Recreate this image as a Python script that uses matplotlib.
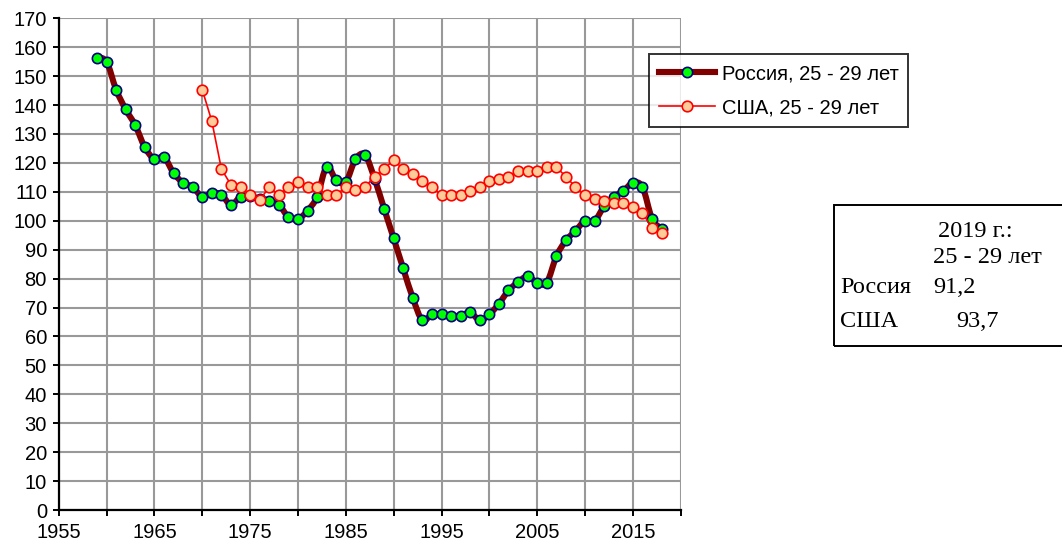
import matplotlib
matplotlib.use("Agg")
import matplotlib.pyplot as plt
from matplotlib.path import Path
from matplotlib.patches import PathPatch, Rectangle
from matplotlib.lines import Line2D
import numpy as np

# Россия, 25 - 29 лет
ru_years = list(range(1959, 2019))
ru_values = [156.4, 155.0, 145.3, 138.5, 133.0, 125.4, 121.3, 122.0, 116.5, 113.1,
             111.7, 108.3, 109.7, 109.0, 105.5, 108.3, 108.6, 107.5, 107.0, 105.6,
             101.3, 100.6, 103.5, 108.3, 118.7, 114.0, 113.4, 121.2, 122.8, 114.6,
             104.2, 93.9, 83.5, 73.3, 65.6, 67.6, 67.6, 67.1, 67.1, 68.3,
             65.6, 67.6, 71.3, 75.9, 78.8, 80.8, 78.6, 78.6, 87.7, 93.2,
             96.5, 100.0, 100.0, 105.0, 108.3, 110.3, 113.1, 111.7, 100.7, 97.2]

# США, 25 - 29 лет
us_years = list(range(1970, 2019))
us_values = [145.3, 134.4, 117.9, 112.4, 111.7, 109.0, 107.1, 111.7, 108.9, 111.7,
             113.4, 111.7, 111.7, 108.9, 108.9, 111.7, 110.6, 111.7, 115.2, 118.0,
             120.9, 118.0, 116.0, 113.7, 111.7, 108.9, 108.9, 108.9, 110.2, 111.8,
             113.7, 114.5, 115.3, 117.1, 117.1, 117.1, 118.6, 118.6, 115.2, 111.7,
             108.9, 107.5, 106.9, 106.2, 106.2, 104.8, 102.8, 97.4, 95.9]

ru_label = "Россия, 25 - 29 лет"
us_label = "США, 25 - 29 лет"
box_lines = [("2019 г.:", None), ("25 - 29 лет", None), ("Россия", "91,2"), ("США", "93,7")]


def smooth_path(xs, ys):
    """Excel-like smoothed line: Catmull-Rom segments as cubic Bezier."""
    pts = np.column_stack([xs, ys]).astype(float)
    verts = [pts[0]]
    codes = [Path.MOVETO]
    n = len(pts)
    for i in range(n - 1):
        p0 = pts[i - 1] if i > 0 else pts[i]
        p1 = pts[i]
        p2 = pts[i + 1]
        p3 = pts[i + 2] if i + 2 < n else pts[i + 1]
        c1 = p1 + (p2 - p0) / 6.0
        c2 = p2 - (p3 - p1) / 6.0
        verts += [c1, c2, p2]
        codes += [Path.CURVE4] * 3
    return Path(verts, codes)


plt.rcParams['font.family'] = ['Liberation Sans', 'DejaVu Sans']

fig = plt.figure(figsize=(10.62, 5.49), dpi=100)
ax = fig.add_axes([0.0553, 0.0710, 0.5857, 0.8957])

ru_color = "#800000"
ax.add_patch(PathPatch(smooth_path(ru_years, ru_values), facecolor="none",
                       edgecolor=ru_color, lw=4.4, capstyle="round",
                       joinstyle="round", zorder=2))
ax.plot(ru_years, ru_values, ls="none", marker="o", ms=7.4, mfc="#00FF00",
        mec="#000080", mew=1.2, zorder=3)
ax.plot(us_years, us_values, color="#FF0000", lw=1.2, marker="o", ms=7.6,
        mfc="#FFCC99", mec="#FF0000", mew=1.2, zorder=4)

ax.set_xlim(1955, 2020)
ax.set_ylim(0, 170)
xt = list(range(1955, 2021, 5))
ax.set_xticks(xt)
ax.set_xticklabels([str(v) if (v - 1955) % 10 == 0 else "" for v in xt])
ax.set_yticks(range(0, 171, 10))
ax.tick_params(axis="both", labelsize=14.5, length=4.5, width=1.4, color="black")
ax.tick_params(axis="x", pad=4.5)
ax.tick_params(axis="y", pad=4)

ax.grid(True, color="#999999", lw=1.5)
ax.set_axisbelow(True)
for side in ("top", "right"):
    ax.spines[side].set_visible(False)
for side in ("left", "bottom"):
    ax.spines[side].set_linewidth(1.6)
    ax.spines[side].set_zorder(6)

handles = [
    Line2D([], [], color=ru_color, lw=4.4, marker="o", ms=7.4, mfc="#00FF00",
           mec="#000080", mew=1.2),
    Line2D([], [], color="#FF0000", lw=1.2, marker="o", ms=7.6, mfc="#FFCC99",
           mec="#FF0000", mew=1.2),
]
leg = fig.legend(handles, [ru_label, us_label], loc="upper left",
                 bbox_to_anchor=(649 / 1062, 1 - 54 / 549), fontsize=14.5,
                 frameon=True, fancybox=False, edgecolor="black",
                 handlelength=2.8, handletextpad=0.3, borderpad=0.5,
                 labelspacing=0.75, borderaxespad=0, numpoints=1)
leg.get_frame().set_linewidth(1.4)

# text box
fig.patches.append(Rectangle((834 / 1062, 1 - 346 / 549), 0.3, 141 / 549,
                             transform=fig.transFigure, fill=False,
                             edgecolor="black", lw=1.4))
serif = ['Liberation Serif', 'DejaVu Serif']
fs = 17.5
fig.text(938 / 1062, 1 - 236.7 / 549, box_lines[0][0], family=serif, fontsize=fs, va="baseline")
fig.text(933 / 1062, 1 - 262.7 / 549, box_lines[1][0], family=serif, fontsize=fs, va="baseline")
fig.text(840 / 1062, 1 - 293 / 549, box_lines[2][0], family=serif, fontsize=fs, va="baseline")
fig.text(933 / 1062, 1 - 293 / 549, box_lines[2][1], family=serif, fontsize=fs, va="baseline")
fig.text(840 / 1062, 1 - 326.7 / 549, box_lines[3][0], family=serif, fontsize=fs, va="baseline")
fig.text(956.7 / 1062, 1 - 326.7 / 549, box_lines[3][1], family=serif, fontsize=fs, va="baseline")

fig.savefig("out.png", dpi=100)
